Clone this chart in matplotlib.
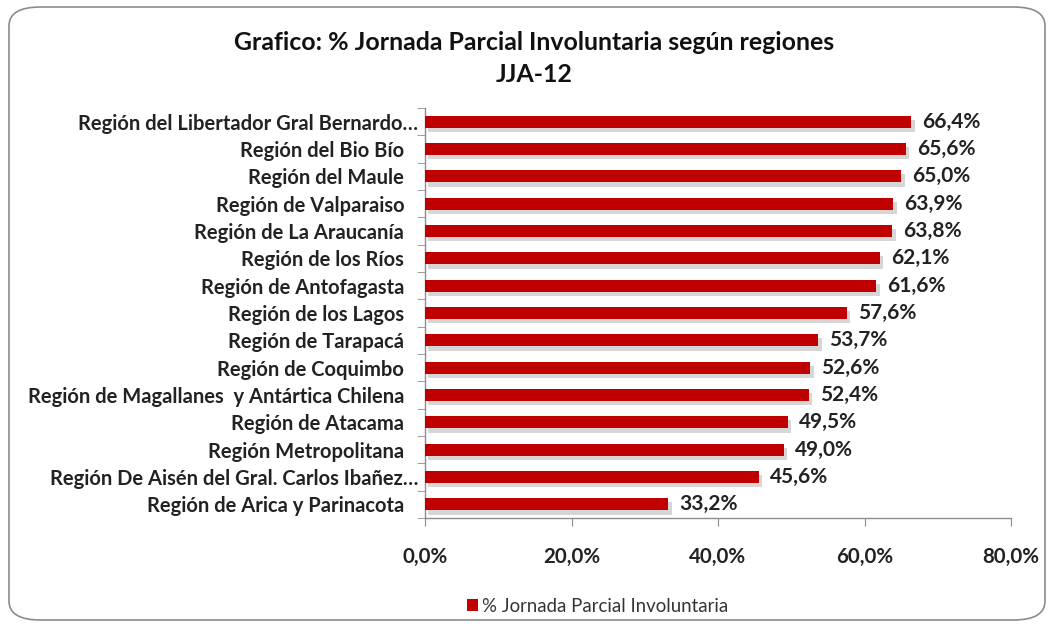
import matplotlib
matplotlib.use("Agg")
import matplotlib.pyplot as plt
import matplotlib.patheffects as pe
import matplotlib.transforms as mtransforms
from matplotlib.patches import FancyBboxPatch
from matplotlib.ticker import FixedLocator, FuncFormatter

categories = [
    "Región del Libertador Gral Bernardo…",
    "Región del Bio Bío",
    "Región del Maule",
    "Región de Valparaiso",
    "Región de La Araucanía",
    "Región de los Ríos",
    "Región de Antofagasta",
    "Región de los Lagos",
    "Región de Tarapacá",
    "Región de Coquimbo",
    "Región de Magallanes  y Antártica Chilena",
    "Región de Atacama",
    "Región Metropolitana",
    "Región De Aisén del Gral. Carlos Ibañez…",
    "Región de Arica y Parinacota",
]
values = [66.4, 65.6, 65.0, 63.9, 63.8, 62.1, 61.6, 57.6, 53.7, 52.6, 52.4, 49.5, 49.0, 45.6, 33.2]
xticks = [0, 20, 40, 60, 80]
series_name = "% Jornada Parcial Involuntaria"

plt.rcParams['font.family'] = ['Lato', 'DejaVu Sans']
W, H = 1054, 626
fig = plt.figure(figsize=(W / 100, H / 100), dpi=100)
TXT = "#222222"

# rounded border
border = FancyBboxPatch((9 / W, 6 / H), 1036 / W, 613 / H,
                        boxstyle="round,pad=0,rounding_size=0.03",
                        transform=fig.transFigure, facecolor="white",
                        edgecolor="#8c8c8c", linewidth=1.2, zorder=-10)
fig.patches.append(border)

ax = fig.add_axes([425 / W, (H - 518) / H, (1011 - 425) / W, (518 - 108) / H])
ax.set_zorder(1)
ax.set_facecolor("none")
n = len(categories)
ypos = list(range(n))
bars = ax.barh(ypos, values, height=0.45, color="#c00000", zorder=3)
for b in bars:
    b.set_path_effects([pe.SimplePatchShadow(offset=(2.5, -3), shadow_rgbFace="#7a7a7a", alpha=0.3),
                        pe.Normal()])
ax.set_ylim(n - 0.5, -0.5)
ax.set_xlim(0, 80)

ax.set_yticks(ypos)
ax.set_yticklabels(categories, fontsize=14.5, color=TXT, fontweight="bold")
ax.yaxis.set_minor_locator(FixedLocator([i - 0.5 for i in range(n + 1)]))
ax.tick_params(axis="y", which="major", length=0, pad=15)
ax.tick_params(axis="y", which="minor", length=6, color="#8c8c8c", direction="out")
for lbl in ax.get_yticklabels():
    if lbl.get_text().endswith("…"):
        lbl.set_transform(lbl.get_transform() + mtransforms.ScaledTranslation(0.14, 0, fig.dpi_scale_trans))

ax.set_xticks(xticks)
ax.xaxis.set_major_formatter(FuncFormatter(lambda v, p: f"{v:.1f}%".replace(".", ",")))
ax.tick_params(axis="x", length=6, color="#8c8c8c", direction="out", labelsize=14.8,
               labelcolor=TXT, pad=15)
for lbl in ax.get_xticklabels():
    lbl.set_fontweight("bold")

for s in ["top", "right"]:
    ax.spines[s].set_visible(False)
for s in ["left", "bottom"]:
    ax.spines[s].set_color("#8c8c8c")
    ax.spines[s].set_linewidth(1.0)

for y, v in zip(ypos, values):
    ax.annotate(f"{v:.1f}%".replace(".", ","), (v, y), xytext=(8, 0), textcoords="offset points",
                va="center", ha="left", fontsize=15, color=TXT, fontweight="bold")

fig.text(534 / W, 1 - 42 / H, "Grafico: % Jornada Parcial Involuntaria según regiones",
         ha="center", va="center", fontsize=17.9, fontweight="bold", color="#111111")
fig.text(534 / W, 1 - 74 / H, "JJA-12", ha="center", va="center", fontsize=17.9,
         fontweight="bold", color="#111111")

leg = fig.legend([bars[0]], [series_name], loc="center", bbox_to_anchor=(598 / W, 1 - 606 / H),
                 frameon=False, fontsize=13.4, handlelength=0.55, handleheight=0.55,
                 handletextpad=0.25)
for t in leg.get_texts():
    t.set_color("#333333")
for h in leg.legend_handles:
    h.set_path_effects([])

fig.savefig("out.png", dpi=100)
